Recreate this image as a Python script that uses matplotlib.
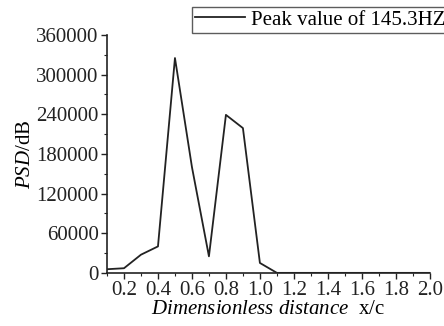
import matplotlib
matplotlib.use("Agg")
import matplotlib.pyplot as plt
from matplotlib.ticker import MultipleLocator

plt.rcParams['font.family'] = ['Liberation Serif', 'DejaVu Serif']
plt.rcParams['mathtext.fontset'] = 'custom'
plt.rcParams['mathtext.rm'] = 'Liberation Serif'
plt.rcParams['mathtext.it'] = 'Liberation Serif:italic'

# PSD peak value along the chord
x_c = [0.1, 0.2, 0.3, 0.4, 0.5, 0.6, 0.7, 0.8, 0.9, 1.0, 1.1, 1.2,
       1.3, 1.4, 1.5, 1.6, 1.7, 1.8, 1.9, 2.0]
psd = [5500, 7000, 27500, 40000, 325000, 160000, 25000, 239000, 219000, 15000,
       0, 0, 0, 0, 0, 0, 0, 0, 0, 0]

fs = 15

fig = plt.figure(figsize=(4.44, 3.26), dpi=100)
ax = fig.add_axes([0.241, 0.163, 0.727, 0.730])

ax.plot(x_c, psd, color='#222222', lw=1.3, label='Peak value of 145.3HZ')

ax.set_xlim(0.1, 2.0)
ax.set_ylim(0, 360000)
ax.xaxis.set_major_locator(MultipleLocator(0.2))
ax.xaxis.set_minor_locator(MultipleLocator(0.1))
ax.yaxis.set_major_locator(MultipleLocator(60000))
ax.yaxis.set_minor_locator(MultipleLocator(30000))
ax.xaxis.set_major_formatter(plt.FuncFormatter(lambda v, p: f'{v:.1f}'))
ax.yaxis.set_major_formatter(plt.FuncFormatter(lambda v, p: f'{int(v)}'))

for s in ['top', 'right']:
    ax.spines[s].set_visible(False)
for s in ['left', 'bottom']:
    ax.spines[s].set_linewidth(1.2)
    ax.spines[s].set_color('#222222')

ax.tick_params(which='major', direction='out', length=4, width=1.0,
               labelsize=fs, pad=2, colors='#222222')
ax.tick_params(which='minor', direction='out', length=2.5, width=0.8,
               colors='#222222')

ax.set_ylabel(r'$\it{PSD}$/dB', fontsize=fs, labelpad=1)
ax.set_xlabel(r'$\it{Dimensionless\ distance}$  x/c', fontsize=fs, labelpad=0)

fig.legend(loc='upper left', bbox_to_anchor=(192 / 444, 1 - 7 / 326),
           fontsize=fs, frameon=True, fancybox=False, edgecolor='#333333',
           handlelength=2.4, handletextpad=0.3, borderpad=0.15,
           borderaxespad=0)

fig.savefig('out.png', dpi=100)
